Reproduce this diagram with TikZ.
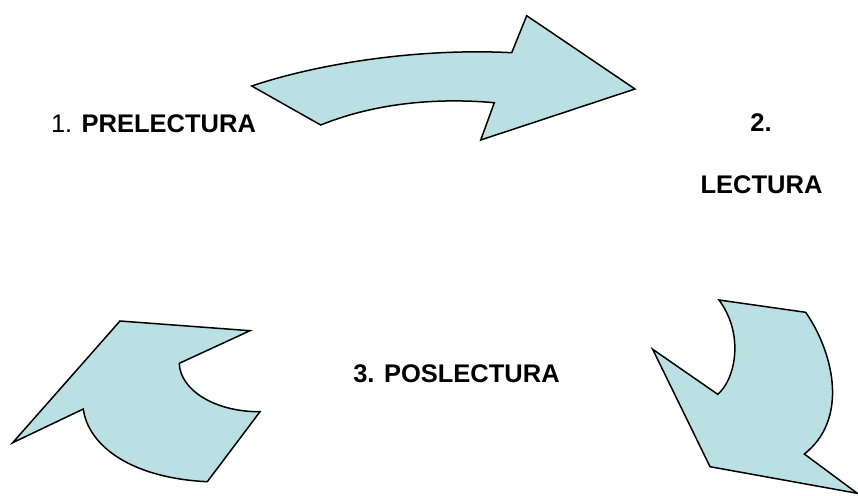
\documentclass[tikz,border=0pt]{standalone}
\usepackage{fontspec}
\setmainfont{Liberation Sans}
\tikzset{
    blockarrow/.style={draw=black, line width=1.5pt, line join=miter, fill=arrowfill},
    phase/.style={inner sep=0pt, anchor=base, font=\fontsize{25.5}{30}\selectfont}
}
\definecolor{arrowfill}{RGB}{187,224,227}
\begin{document}
\begin{tikzpicture}[x=1pt, y=-1pt]
    \useasboundingbox (0,0) rectangle (858,495);

    % Top arrow: prelectura to lectura
    \draw[blockarrow] (251.7,86) .. controls (320,63) and (420,48) .. (511.7,52.7)
        -- (526.7,15.7) -- (635,89) -- (480.7,140) -- (494.3,102.7)
        .. controls (430,97) and (370,105) .. (320.7,125) -- cycle;

    % Right arrow: lectura to poslectura
    \draw[blockarrow] (719,300) -- (805.7,312.3)
        .. controls (835,355) and (848,420) .. (804.3,454)
        -- (857.3,493.3) -- (710,466.7) -- (652.7,349.3) -- (717.7,394.3)
        .. controls (735,380) and (745,335) .. cycle;

    % Left arrow: poslectura to prelectura
    \draw[blockarrow] (120,321) -- (250,330.7) -- (179.3,363.3)
        .. controls (180,390) and (215,412) .. (260,411.7)
        -- (207.3,481.7) .. controls (130,478) and (88,445) .. (83.3,409)
        -- (12.7,442.7) -- cycle;

    % Labels
    \node[phase] (pre) at (153.5,132) {1. \textbf{PRELECTURA}};
    \node[phase] (lecnum) at (761,131) {\textbf{2.}};
    \node[phase] (lec) at (761.5,193) {\textbf{LECTURA}};
    \node[phase] (pos) at (456.5,382) {\textbf{3. POSLECTURA}};
\end{tikzpicture}
\end{document}
